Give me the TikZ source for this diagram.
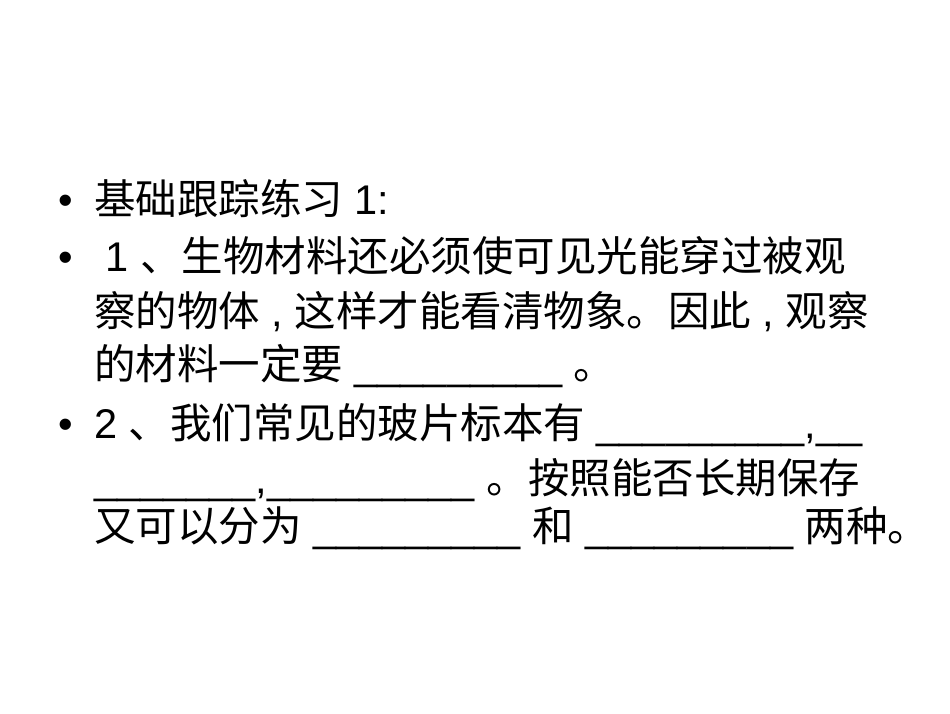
\documentclass[tikz,border=0pt]{standalone}
\usepackage{fontspec}
\setmainfont{Liberation Sans}
\newfontfamily\cjk{Noto Sans CJK SC}
\begin{document}
\begin{tikzpicture}[x=1pt,y=1pt,
  txt/.style={anchor=base west,inner sep=0pt,font=\fontsize{41.5}{41.5}\selectfont}]
\useasboundingbox (0,0) rectangle (950,-713);
\node[txt] (b1) at (58,-214) {•};
\node[txt] (l1) at (94,-214) {{\cjk 基础跟踪练习} 1:};
\node[txt] (b2) at (58,-271) {•};
\node[txt] (l2) at (94,-271) {\ 1 {\cjk 、生物材料还必须使可见光能穿过被观}};
\node[txt] (l3) at (94,-326) {{\cjk 察的物体} , {\cjk 这样才能看清物象。因此} , {\cjk 观察}};
\node[txt] (l4) at (94,-379) {{\cjk 的材料一定要} \_\_\_\_\_\_\_\_\_ {\cjk 。}};
\node[txt] (b3) at (58,-438) {•};
\node[txt] (l5) at (94,-438) {2 {\cjk 、我们常见的玻片标本有} \_\_\_\_\_\_\_\_\_,\_\_};
\node[txt] (l6) at (94,-493) {\_\_\_\_\_\_\_,\_\_\_\_\_\_\_\_\_ {\cjk 。按照能否长期保存}};
\node[txt] (l7) at (94,-541) {{\cjk 又可以分为} \_\_\_\_\_\_\_\_\_ {\cjk 和} \_\_\_\_\_\_\_\_\_ {\cjk 两种。}};
\end{tikzpicture}
\end{document}
